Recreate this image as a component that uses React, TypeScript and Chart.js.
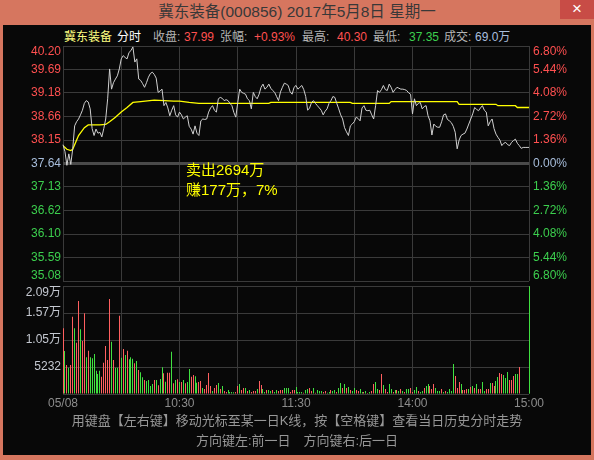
import React, { useEffect, useRef } from "react";
import { Chart, registerables } from "chart.js";

Chart.register(...registerables);

// ---------- data ----------
const PREV_CLOSE = 37.64;
const priceTicks = [35.08, 35.59, 36.1, 36.62, 37.13, 37.64, 38.15, 38.66, 39.18, 39.69, 40.2];
const pctTickLabels = ["6.80%", "5.44%", "4.08%", "2.72%", "1.36%", "0.00%", "1.36%", "2.72%", "4.08%", "5.44%", "6.80%"];
const volTicks = [0, 5232, 10464, 15696, 20928];
const volTickLabels = ["", "5232", "1.05万", "1.57万", "2.09万"];
const timeTickMinutes = [0, 60, 120, 180, 240];
const timeTickLabels = ["05/08", "10:30", "11:30", "14:00", "15:00"];

// minute-by-minute price (0 = 09:30 ... 240 = 15:00)
const prices = [
  38.05, 37.9, 37.6, 37.85, 37.62, 37.96, 38.46, 38.55, 38.61, 38.7,
  38.8, 38.95, 39.01, 38.98, 38.83, 38.4, 38.25, 38.39, 38.3, 38.32,
  38.22, 38.4, 38.61, 39.05, 39.7, 39.26, 39.4, 39.48, 39.55, 39.7,
  39.92, 39.99, 39.95, 39.92, 40.06, 40.1, 40.18, 39.85, 39.92, 39.48,
  39.45, 39.38, 39.3, 39.4, 39.52, 39.6, 39.63, 39.58, 39.5, 39.19,
  39.22, 39.26, 38.9, 38.97, 38.85, 38.68, 38.8, 38.9, 38.7, 38.65,
  38.76, 38.7, 38.61, 38.65, 38.68, 38.45, 38.39, 38.28, 38.46, 38.3,
  38.25, 38.57, 38.61, 38.6, 38.61, 38.76, 38.85, 38.9, 38.8, 38.76,
  39.05, 39.08, 39.06, 39.01, 39.03, 39.01, 38.95, 38.9, 38.75, 38.65,
  38.97, 39.26, 39.19, 39.17, 39.15, 39.05, 39.01, 38.83, 39.19, 39.1,
  39.05, 39.15, 39.3, 39.37, 39.26, 39.3, 39.37, 39.28, 39.23, 39.19,
  39.1, 39.01, 39.2, 39.3, 39.39, 39.37, 39.34, 39.2, 39.15, 39.3,
  39.34, 39.26, 39.3, 39.34, 39.25, 39.1, 38.8, 38.85, 38.97, 39.01,
  38.95, 38.9, 38.85, 38.8, 38.7, 38.78, 38.83, 38.95, 39.01, 39.1,
  39.08, 38.95, 38.83, 38.7, 38.61, 38.42, 38.33, 38.25, 38.46, 38.5,
  38.55, 38.65, 38.62, 38.57, 38.85, 38.9, 38.8, 38.79, 38.8, 38.7,
  38.61, 38.9, 39.23, 39.19, 39.25, 39.34, 39.25, 39.23, 39.37, 39.3,
  39.19, 39.25, 39.3, 39.28, 39.26, 39.26, 39.25, 39.23, 39.18, 39.15,
  38.72, 39.05, 38.9, 38.95, 38.97, 38.83, 38.88, 38.9, 38.68, 38.57,
  38.26, 38.5, 38.45, 38.43, 38.43, 38.55, 38.7, 38.72, 38.6, 38.57,
  38.53, 38.45, 38.32, 37.96, 38.15, 38.25, 38.28, 38.3, 38.39, 38.5,
  38.61, 38.72, 38.86, 38.82, 38.79, 38.85, 38.9, 38.8, 38.76, 38.46,
  38.55, 38.61, 38.4, 38.28, 38.21, 38.15, 38.03, 38.08, 38.1, 38.05,
  38.03, 38.1, 38.14, 38.17, 38.08, 38.03, 37.97, 37.99, 37.99, 37.99,
  37.99,
];

// average price line, read at its turning points
const avgMinutes = [0, 2, 4, 5, 8, 11, 13, 19, 22, 24, 27, 30, 33, 36, 40, 47, 57, 60, 65, 70, 106, 107, 148, 149, 168, 169, 203, 204, 223, 224, 233, 234, 240];
const avgPrices = [38.03, 37.95, 37.92, 37.95, 38.25, 38.42, 38.48, 38.48, 38.49, 38.55, 38.65, 38.76, 38.86, 38.97, 38.99, 39.02, 39.0, 39.0, 38.97, 38.95, 38.95, 38.97, 38.97, 38.95, 38.95, 38.99, 38.99, 38.93, 38.93, 38.9, 38.9, 38.86, 38.86];

// volume per minute (hands)
const volumes = [
  12730, 8330, 5620, 5100, 5620, 14990, 12730, 9950, 18020, 12530,
  10270, 15630, 7110, 8400, 7110, 6910, 7750, 4520, 3880, 4520,
  3360, 6070, 9300, 6590, 18410, 10140, 6590, 5100, 5100, 15180,
  7040, 8720, 7560, 8400, 6720, 7110, 6850, 5940, 6400, 4650,
  4200, 3230, 2710, 2520, 2710, 1550, 1940, 2710, 2710, 1680,
  2910, 5170, 4010, 2390, 4130, 4130, 8200, 2070, 2710, 2840,
  2330, 2330, 2710, 2070, 2330, 4850, 3360, 3680, 3420, 2200,
  2330, 2520, 1160, 970, 1740, 4070, 1550, 580, 1160, 1740,
  2130, 970, 1550, 580, 390, 780, 390, 390, 320, 390,
  1550, 1940, 780, 1160, 1160, 580, 780, 390, 580, 580,
  970, 2520, 1740, 970, 390, 780, 780, 580, 780, 390,
  780, 580, 780, 780, 1160, 1160, 1160, 390, 780, 780,
  1360, 390, 390, 390, 260, 780, 970, 1160, 580, 1160,
  260, 780, 580, 580, 390, 580, 260, 390, 780, 580,
  780, 390, 1160, 2130, 1160, 1940, 1160, 1360, 780, 580,
  1160, 780, 580, 970, 390, 390, 580, 190, 390, 580,
  1940, 2330, 970, 780, 3880, 1740, 970, 390, 1940, 970,
  390, 780, 780, 580, 970, 580, 390, 970, 970, 1160,
  390, 780, 1360, 580, 390, 580, 1160, 1550, 1940, 1550,
  970, 1940, 1160, 580, 580, 970, 390, 580, 390, 970,
  580, 5810, 3490, 1160, 2330, 1940, 780, 780, 970, 970,
  1360, 1550, 1160, 1940, 970, 970, 2330, 580, 970, 970,
  2130, 2130, 1550, 2520, 3290, 4070, 3880, 3680, 3100, 4260,
  2710, 2710, 3490, 3880, 3880, 5230, 0, 0, 0, 0,
  20900,
];
// 1 = up minute (red), 0 = down minute (green)
const volUp = [
  1, 0, 1, 0, 1, 1, 0, 1, 1, 0,
  1, 1, 0, 1, 0, 0, 0, 0, 0, 0,
  1, 1, 1, 1, 1, 0, 1, 0, 0, 1,
  0, 1, 0, 1, 0, 0, 0, 1, 0, 1,
  0, 0, 1, 0, 0, 0, 0, 1, 0, 1,
  0, 0, 1, 0, 1, 1, 0, 1, 0, 1,
  0, 1, 0, 1, 0, 0, 1, 1, 0, 0,
  1, 1, 0, 1, 1, 1, 1, 0, 1, 1,
  0, 1, 0, 1, 1, 0, 0, 0, 0, 1,
  1, 0, 1, 1, 0, 1, 0, 1, 1, 1,
  0, 1, 1, 0, 0, 1, 0, 0, 1, 0,
  0, 1, 1, 1, 0, 0, 0, 1, 1, 1,
  0, 0, 0, 0, 1, 0, 0, 1, 1, 0,
  1, 0, 0, 0, 1, 1, 0, 0, 1, 0,
  0, 1, 0, 0, 1, 0, 1, 0, 1, 0,
  0, 1, 1, 0, 0, 1, 0, 1, 0, 1,
  1, 0, 0, 1, 1, 0, 1, 1, 0, 0,
  1, 0, 1, 0, 1, 0, 1, 0, 0, 1,
  1, 0, 0, 1, 0, 0, 1, 0, 0, 1,
  1, 1, 0, 0, 0, 1, 0, 1, 0, 0,
  0, 0, 1, 1, 1, 0, 1, 1, 1, 0,
  1, 0, 1, 0, 1, 1, 0, 0, 1, 1,
  0, 1, 1, 0, 0, 1, 1, 0, 0, 0,
  1, 1, 1, 0, 0, 1, 0, 0, 0, 0,
  0,
];

// ---------- styles ----------
const RED = "#ff5050";
const GREEN = "#3ccf4e";
const NEUTRAL = "#a8bedc";
const GRID = "#3a3a3a";
const BAR_RED = "#ff5f5f";
const BAR_GREEN = "#40e040";
const SALMON = "#d6765f";
const PANEL = "#080808";
const FONT12 = '12px "Liberation Sans", "Noto Sans CJK SC", sans-serif';

const zeroWidth = (s: any) => {
  s.width = 0;
};
const zeroHeight = (s: any) => {
  s.height = 0;
};

const priceLabels = {
  id: "priceLabels",
  afterDraw(chart: any) {
    const { ctx, chartArea, scales } = chart;
    const y = scales.y;
    ctx.save();
    ctx.font = FONT12;
    ctx.textBaseline = "middle";
    priceTicks.forEach((v, i) => {
      let py = y.getPixelForValue(v);
      py = Math.min(Math.max(py, chartArea.top + 6), chartArea.bottom - 5);
      const col = v > PREV_CLOSE + 1e-6 ? RED : v < PREV_CLOSE - 1e-6 ? GREEN : NEUTRAL;
      ctx.fillStyle = col;
      ctx.textAlign = "right";
      ctx.fillText(v.toFixed(2), chartArea.left - 2, py);
      ctx.textAlign = "left";
      ctx.fillText(pctTickLabels[pctTickLabels.length - 1 - i], chartArea.right + 4, py);
    });
    ctx.restore();
  },
};

// snap 1px bars to whole pixel columns so they render crisp
const snapBars = {
  id: "snapBars",
  afterDatasetsUpdate(chart: any) {
    chart.getDatasetMeta(0).data.forEach((el: any) => {
      el.x = Math.floor(el.x) + 0.5;
    });
  },
};

const volLabels = {
  id: "volLabels",
  afterDraw(chart: any) {
    const { ctx, chartArea, scales } = chart;
    ctx.save();
    ctx.font = FONT12;
    ctx.textBaseline = "middle";
    ctx.textAlign = "right";
    ctx.fillStyle = "#c4c8d0";
    volTicks.forEach((v, i) => {
      if (!volTickLabels[i]) return;
      let py = scales.y.getPixelForValue(v);
      py = Math.max(py, chartArea.top + 7);
      ctx.fillText(volTickLabels[i], chartArea.left - 2, py);
    });
    ctx.textAlign = "center";
    ctx.fillStyle = "#8c8c8c";
    timeTickMinutes.forEach((m, i) => {
      ctx.fillText(timeTickLabels[i], scales.x.getPixelForValue(m), chartArea.bottom + 10);
    });
    ctx.restore();
  },
};

export default function App() {
  const priceRef = useRef<HTMLCanvasElement | null>(null);
  const volRef = useRef<HTMLCanvasElement | null>(null);

  useEffect(() => {
    if (!priceRef.current || !volRef.current) return;
    const priceChart = new Chart(priceRef.current, {
      type: "line",
      data: {
        datasets: [
          {
            data: prices.map((p, i) => ({ x: i, y: p })),
            borderColor: "#d0d0d0",
            borderWidth: 1,
            pointRadius: 0,
            tension: 0,
            clip: false as any,
          },
          {
            data: avgMinutes.map((m, i) => ({ x: m, y: avgPrices[i] })),
            borderColor: "#ffff00",
            borderWidth: 1.3,
            pointRadius: 0,
            tension: 0,
          },
        ],
      },
      options: {
        responsive: false,
        animation: false,
        events: [],
        layout: { padding: { left: 63, right: 65, top: 6, bottom: 5 } },
        plugins: { legend: { display: false }, tooltip: { enabled: false } },
        scales: {
          x: {
            type: "linear",
            min: 0,
            max: 240,
            ticks: { display: false, stepSize: 30 },
            grid: { color: GRID, drawTicks: false },
            border: { display: false },
            afterFit: zeroHeight,
          },
          y: {
            type: "linear",
            min: priceTicks[0],
            max: priceTicks[priceTicks.length - 1],
            afterBuildTicks: (s: any) => {
              s.ticks = priceTicks.map((v) => ({ value: v }));
            },
            ticks: { display: false },
            grid: {
              drawTicks: false,
              color: (c: any) => (c.tick && Math.abs(c.tick.value - PREV_CLOSE) < 1e-6 ? "#4a4a4a" : GRID),
              lineWidth: (c: any) => (c.tick && Math.abs(c.tick.value - PREV_CLOSE) < 1e-6 ? 3 : 1),
            },
            border: { display: false },
            afterFit: zeroWidth,
          },
        },
      },
      plugins: [priceLabels],
    });

    const volChart = new Chart(volRef.current, {
      type: "bar",
      data: {
        datasets: [
          {
            data: volumes.map((v, i) => ({ x: i, y: v })),
            backgroundColor: volUp.map((u) => (u ? BAR_RED : BAR_GREEN)),
            barThickness: 1,
            borderWidth: 0,
            inflateAmount: 0,
            clip: false as any,
          } as any,
        ],
      },
      options: {
        responsive: false,
        animation: false,
        events: [],
        layout: { padding: { left: 63, right: 65, top: 3, bottom: 19 } },
        plugins: { legend: { display: false }, tooltip: { enabled: false } },
        scales: {
          x: {
            type: "linear",
            min: 0,
            max: 240,
            offset: false,
            ticks: { display: false, stepSize: 30 },
            grid: { color: GRID, drawTicks: false, offset: false },
            border: { display: false },
            afterFit: zeroHeight,
          },
          y: {
            type: "linear",
            min: 0,
            max: volTicks[volTicks.length - 1],
            afterBuildTicks: (s: any) => {
              s.ticks = volTicks.map((v) => ({ value: v }));
            },
            ticks: { display: false },
            grid: { color: GRID, drawTicks: false },
            border: { display: false },
            afterFit: zeroWidth,
          },
        },
      },
      plugins: [snapBars, volLabels],
    });

    return () => {
      priceChart.destroy();
      volChart.destroy();
    };
  }, []);

  const hdr: React.CSSProperties = {
    position: "absolute",
    top: 30,
    lineHeight: "14px",
    fontSize: 12,
    whiteSpace: "pre",
  };
  const gray = "#b4b4b4";

  return (
    <div
      style={{
        position: "fixed",
        left: 0,
        top: 0,
        width: 594,
        height: 460,
        background: SALMON,
        overflow: "hidden",
        fontFamily: '"Liberation Sans", "Noto Sans CJK SC", sans-serif',
      }}
    >
      <div
        style={{
          position: "absolute",
          left: 0,
          top: 3,
          width: 594,
          textAlign: "center",
          fontSize: 15.5,
          lineHeight: "18px",
          color: "#383838",
          whiteSpace: "pre",
        }}
      >
        冀东装备(000856) 2017年5月8日 星期一
      </div>
      <div
        style={{
          position: "absolute",
          left: 560,
          top: 0,
          width: 34,
          height: 19,
          background: "#c84c46",
          color: "#ffffff",
          fontSize: 17,
          lineHeight: "18px",
          textAlign: "center",
        }}
      >
        ×
      </div>
      <div style={{ position: "absolute", left: 3, top: 25, width: 588, height: 430, background: PANEL }} />

      <span style={{ ...hdr, left: 64, color: "#ffff80" }}>冀东装备</span>
      <span style={{ ...hdr, left: 117, color: "#ffffff" }}>分时</span>
      <span style={{ ...hdr, left: 153, color: gray }}>收盘:</span>
      <span style={{ ...hdr, left: 184, color: RED }}>37.99</span>
      <span style={{ ...hdr, left: 220, color: gray }}>张幅:</span>
      <span style={{ ...hdr, left: 254, color: RED }}>+0.93%</span>
      <span style={{ ...hdr, left: 302, color: gray }}>最高:</span>
      <span style={{ ...hdr, left: 337, color: RED }}>40.30</span>
      <span style={{ ...hdr, left: 373, color: gray }}>最低:</span>
      <span style={{ ...hdr, left: 409, color: GREEN }}>37.35</span>
      <span style={{ ...hdr, left: 444, color: gray }}>成交:</span>
      <span style={{ ...hdr, left: 475, color: NEUTRAL }}>69.0万</span>

      <canvas ref={priceRef} width={594} height={246} style={{ position: "absolute", left: 0, top: 40 }} />
      <canvas ref={volRef} width={594} height={130} style={{ position: "absolute", left: 0, top: 283 }} />

      <div style={{ position: "absolute", left: 186, top: 161, fontSize: 15, lineHeight: "18px", color: "#ffff00", whiteSpace: "pre" }}>
        卖出2694万
      </div>
      <div style={{ position: "absolute", left: 186, top: 181, fontSize: 15, lineHeight: "18px", color: "#ffff00", whiteSpace: "pre" }}>
        赚177万，7%
      </div>

      <div
        style={{
          position: "absolute",
          left: 0,
          top: 413,
          width: 594,
          textAlign: "center",
          fontSize: 13,
          lineHeight: "16px",
          color: "#979797",
          whiteSpace: "pre",
        }}
      >
        用键盘【左右键】移动光标至某一日K线，按【空格键】查看当日历史分时走势
      </div>
      <div
        style={{
          position: "absolute",
          left: 0,
          top: 433,
          width: 594,
          textAlign: "center",
          fontSize: 13,
          lineHeight: "16px",
          color: "#979797",
          whiteSpace: "pre",
        }}
      >
        方向键左:前一日　方向键右:后一日
      </div>
    </div>
  );
}
